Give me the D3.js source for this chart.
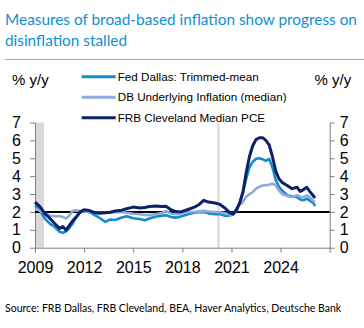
<!DOCTYPE html>
<html>
<head>
<meta charset="utf-8">
<script src="https://cdn.jsdelivr.net/npm/d3@7"></script>
<style>
  body { margin: 0; background: #fff; }
  svg { display: block; }
  .axis path, .axis line { stroke: #808080; stroke-width: 1; }
  .axis text { font-family: "Liberation Sans", Arial, sans-serif; font-size: 16px; fill: #000; }
</style>
</head>
<body>
<div id="chart"></div>
<script>
// decimal years, shared by all three series
const dates = [
  2009.0, 2009.3, 2009.6, 2009.9, 2010.2, 2010.5, 2010.7, 2010.9, 2011.1, 2011.3,
  2011.5, 2011.75, 2012.0, 2012.3, 2012.6, 2012.9, 2013.3, 2013.6, 2013.9, 2014.3,
  2014.6, 2015.0, 2015.4, 2015.7, 2016.0, 2016.4, 2016.7, 2017.0, 2017.3, 2017.6,
  2017.9, 2018.3, 2018.7, 2019.0, 2019.3, 2019.6, 2020.0, 2020.3, 2020.6, 2020.9,
  2021.1, 2021.3, 2021.5, 2021.7, 2021.9, 2022.1, 2022.3, 2022.5, 2022.7, 2022.9,
  2023.1, 2023.3, 2023.5, 2023.7, 2023.9, 2024.1, 2024.4, 2024.7, 2025.0, 2025.2,
  2025.4, 2025.6, 2025.8, 2026.0, 2026.1
];

const dallasTrimmed = [
  2.37, 2.09, 1.63, 1.35, 1.17, 0.89, 0.83, 0.92, 1.10, 1.35,
  1.70, 1.95, 2.08, 2.00, 1.85, 1.69, 1.44, 1.58, 1.55, 1.69,
  1.76, 1.65, 1.60, 1.54, 1.63, 1.74, 1.78, 1.82, 1.72, 1.68,
  1.75, 1.85, 1.95, 1.98, 2.00, 1.92, 1.87, 1.88, 1.78, 1.80,
  1.85, 2.05, 2.50, 3.10, 3.85, 4.50, 4.80, 4.97, 5.00, 4.95,
  4.85, 4.97, 4.50, 3.80, 3.40, 3.20, 2.93, 2.87, 2.83, 2.70,
  2.65, 2.74, 2.62, 2.50, 2.33
];

const dbUnderlying = [
  2.19, 2.06, 1.92, 1.80, 1.76, 1.76, 1.72, 1.63, 1.80, 2.06,
  2.09, 2.05, 2.02, 2.00, 1.97, 1.95, 1.95, 1.97, 1.98, 2.00,
  1.95, 1.90, 1.87, 1.83, 1.82, 1.88, 1.92, 2.05, 1.90, 1.87,
  1.93, 2.00, 2.00, 2.03, 2.06, 2.02, 2.00, 1.98, 1.93, 1.85,
  1.85, 2.20, 2.40, 2.56, 2.85, 3.00, 3.11, 3.30, 3.40, 3.48,
  3.50, 3.52, 3.58, 3.50, 3.20, 3.00, 2.89, 2.83, 2.93, 2.85,
  2.83, 2.93, 2.80, 2.60, 2.56
];

const clevelandMedian = [
  2.55, 2.30, 1.90, 1.65, 1.35, 1.08, 1.18, 0.98, 1.25, 1.50,
  1.70, 2.00, 2.12, 2.08, 1.98, 1.92, 1.95, 1.98, 2.05, 2.10,
  2.18, 2.27, 2.22, 2.25, 2.30, 2.33, 2.30, 2.32, 2.12, 2.02,
  2.00, 2.12, 2.25, 2.40, 2.65, 2.55, 2.50, 2.42, 2.22, 1.95,
  1.88, 2.10, 2.50, 3.10, 4.20, 5.10, 5.70, 6.05, 6.15, 6.15,
  6.00, 5.75, 5.10, 4.30, 3.85, 3.65, 3.48, 3.30, 3.38, 3.15,
  3.25, 3.38, 3.12, 2.90, 2.78
];

const seriesNames = ["Fed Dallas: Trimmed-mean", "DB Underlying Inflation (median)", "FRB Cleveland Median PCE"];
const seriesColors = ["#138bcc", "#8eaadc", "#0d2266"];
const seriesValues = [dallasTrimmed, dbUnderlying, clevelandMedian];

// recession shading, [start, end] in decimal years
const recessions = [[2009.0, 2009.55], [2020.14, 2020.27]];

const yearTicks = [2009, 2012, 2015, 2018, 2021, 2024, 2027];
const valueTicks = [0, 1, 2, 3, 4, 5, 6, 7];
const target = 2;

const W = 364, H = 328;
const svg = d3.select("#chart").append("svg").attr("width", W).attr("height", H);

// shrink or grow a text's font size until it spans the given width
function fitWidth(sel, width) {
  const node = sel.node();
  const fs = parseFloat(sel.attr("font-size"));
  const w = node.getComputedTextLength();
  sel.attr("font-size", (fs * width / w).toFixed(2));
}

// title
const titleFont = "Lato, 'Open Sans', sans-serif";
const t1 = svg.append("text").attr("x", 5).attr("y", 25)
  .attr("font-family", titleFont).attr("font-size", 15.5).attr("fill", "#0e8fd6")
  .text("Measures of broad-based inflation show progress on");
fitWidth(t1, 352);
svg.append("text").attr("x", 5).attr("y", 45.5)
  .attr("font-family", titleFont).attr("font-size", t1.attr("font-size")).attr("fill", "#0e8fd6")
  .text("disinflation stalled");

svg.append("line").attr("x1", 5).attr("x2", W).attr("y1", 59.5).attr("y2", 59.5)
  .attr("stroke", "#a6a6a6").attr("stroke-width", 1);

const x = d3.scaleLinear().domain([2009, 2027]).range([35, 329.7]);
const y = d3.scaleLinear().domain([0, 7]).range([247.7, 122.5]);

// shaded recessions
svg.append("g").selectAll("rect").data(recessions).join("rect")
  .attr("x", d => x(d[0]))
  .attr("width", d => x(d[1]) - x(d[0]))
  .attr("y", y(7))
  .attr("height", y(0) - y(7))
  .attr("fill", "#d9d9d9");

// axes
const xAxis = svg.append("g").attr("class", "axis")
  .attr("transform", `translate(0,${y(0)})`)
  .call(d3.axisBottom(x).tickValues(yearTicks).tickSize(5).tickSizeOuter(0).tickPadding(9)
    .tickFormat(d => d === 2027 ? "" : d3.format("d")(d)));

svg.append("g").attr("class", "axis y-axis")
  .attr("transform", `translate(${x(2009)},0)`)
  .call(d3.axisLeft(y).tickValues(valueTicks).tickFormat(d3.format("d"))
    .tickSize(5).tickSizeOuter(0).tickPadding(9));

svg.append("g").attr("class", "axis y-axis")
  .attr("transform", `translate(${x(2027)},0)`)
  .call(d3.axisRight(y).tickValues(valueTicks).tickFormat(d3.format("d"))
    .tickSize(5).tickSizeOuter(0).tickPadding(5));

// 2% line
svg.append("line")
  .attr("x1", x(2009)).attr("x2", x(2027))
  .attr("y1", y(target)).attr("y2", y(target))
  .attr("stroke", "#000").attr("stroke-width", 2);

const line = d3.line().x((d, i) => x(dates[i])).y(d => y(d));

svg.append("g").selectAll("path").data(seriesValues).join("path")
  .attr("d", line)
  .attr("fill", "none")
  .attr("stroke", (d, i) => seriesColors[i])
  .attr("stroke-width", (d, i) => i === 2 ? 3 : 2.6)
  .attr("stroke-linejoin", "round");

// unit labels
const units = svg.append("g")
  .attr("font-family", "Liberation Sans, Arial, sans-serif")
  .attr("font-size", 15);
units.append("text").attr("x", 12).attr("y", 85).text("% y/y");
units.append("text").attr("x", 314.5).attr("y", 85).text("% y/y");

// legend
const legend = svg.append("g")
  .attr("font-family", "Liberation Sans, Arial, sans-serif")
  .attr("font-size", 11.7)
  .selectAll("g").data(seriesNames).join("g")
  .attr("transform", (d, i) => `translate(0,${76.8 + i * 20.5})`);
legend.append("line")
  .attr("x1", 81.7).attr("x2", 115.7)
  .attr("stroke", (d, i) => seriesColors[i])
  .attr("stroke-width", 3);
legend.append("text").attr("x", 117.7).attr("y", 4).text(d => d);

// source
const src = svg.append("text")
  .attr("x", 5).attr("y", 311.5)
  .attr("font-family", titleFont)
  .attr("font-size", 11.4)
  .text("Source: FRB Dallas, FRB Cleveland, BEA, Haver Analytics, Deutsche Bank");
fitWidth(src, 336);
</script>
</body>
</html>
